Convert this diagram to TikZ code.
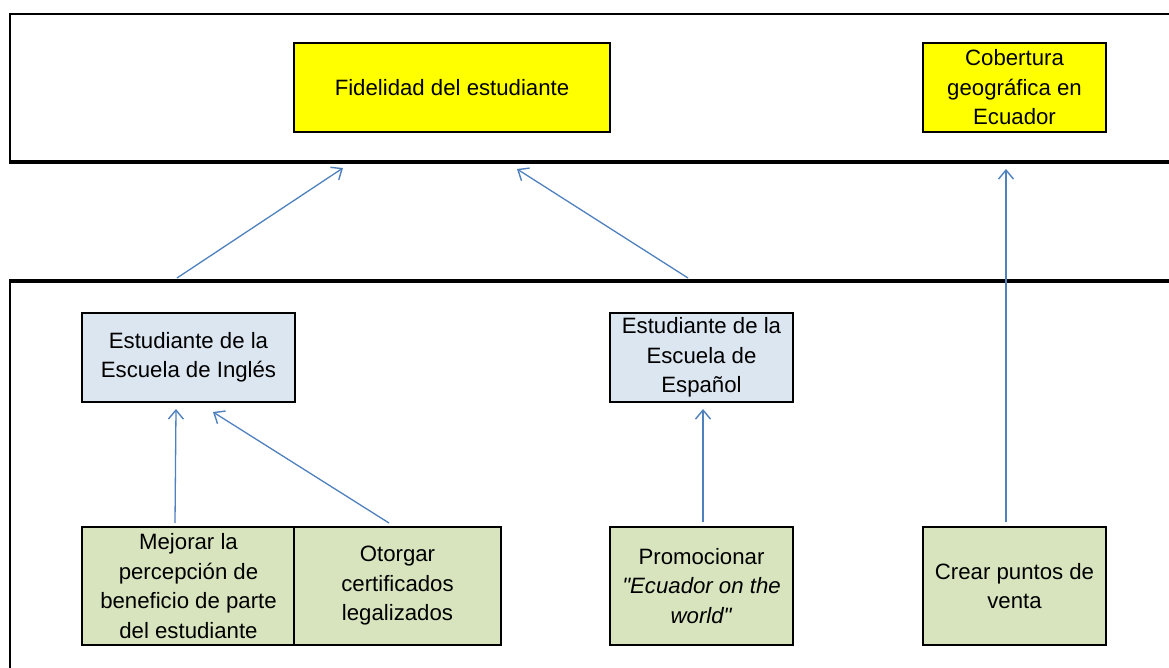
\documentclass[tikz,border=0pt]{standalone}
\usepackage{fontspec}
\setmainfont{Liberation Sans}[Ligatures=TeXOff]
\usetikzlibrary{arrows.meta}
\definecolor{boxyellow}{HTML}{FFFF00}
\definecolor{boxblue}{HTML}{DCE6F1}
\definecolor{boxgreen}{HTML}{D7E4BD}
\definecolor{arrowblue}{HTML}{4F81BD}
\tikzset{
  basebox/.style={draw=black, line width=2pt, rectangle, align=center, inner sep=2pt,
    font=\fontsize{22.2}{29.5}\selectfont},
  goalbox/.style={basebox, fill=boxyellow},
  studbox/.style={basebox, fill=boxblue},
  actbox/.style={basebox, fill=boxgreen},
  link/.style={draw=arrowblue, line width=1.3pt, -{Straight Barb[length=9pt,width=15pt,line width=1.4pt]}},
  panelthin/.style={line width=2pt, black},
  panelthick/.style={line width=3.2pt, black},
}
\begin{document}
\begin{tikzpicture}[x=1pt,y=-1pt]
\useasboundingbox (0,0) rectangle (1169,668);
\clip (0,0) rectangle (1169,668);
\fill[white] (0,0) rectangle (1169,668);
% panels
\draw[panelthin] (1180,14) -- (10,14) -- (10,162);
\draw[panelthick] (9,162) -- (1180,162);
\draw[panelthick] (9,281) -- (1180,281);
\draw[panelthin] (10,281) -- (10,680);
% top goals
\node[goalbox, minimum width=316pt, minimum height=89pt] (fid) at (452,87.5) {Fidelidad del estudiante};
\node[goalbox, minimum width=183pt, minimum height=89pt] (cob) at (1014.5,87.5) {Cobertura\\geográfica en\\Ecuador};
% students
\node[studbox, minimum width=213pt, minimum height=89pt] (ing) at (188.5,357.5) {Estudiante de la\\Escuela de Inglés};
\node[studbox, minimum width=183pt, minimum height=89pt] (esp) at (701.5,357.5) {Estudiante de la\\Escuela de\\Español};
% actions
\node[actbox, minimum width=213pt, minimum height=118pt] (mej) at (188.5,586) {Mejorar la\\percepción de\\beneficio de parte\\del estudiante};
\node[actbox, minimum width=207pt, minimum height=118pt] (oto) at (397.5,586) {Otorgar\\certificados\\legalizados};
\node[actbox, minimum width=183pt, minimum height=118pt] (pro) at (701.5,586) {Promocionar\\\textit{"Ecuador on the}\\\textit{world"}};
\node[actbox, minimum width=183pt, minimum height=118pt] (cre) at (1014.5,586) {Crear puntos de\\venta};
% connector end points
\coordinate (ingUp) at (177,278);
\coordinate (fidL) at (343,168);
\coordinate (espUp) at (688,278);
\coordinate (fidR) at (517,169);
\coordinate (creUp) at (1006,522);
\coordinate (cobIn) at (1006,169);
\coordinate (mejUp) at (175,523);
\coordinate (ingL) at (176,409);
\coordinate (otoUp) at (389,523);
\coordinate (ingR) at (213,412);
\coordinate (proUp) at (703,522);
\coordinate (espIn) at (703,409);
\draw[link] (ingUp) -- (fidL);
\draw[link] (espUp) -- (fidR);
\draw[link] (creUp) -- (cobIn);
\draw[link] (mejUp) -- (ingL);
\draw[link] (otoUp) -- (ingR);
\draw[link] (proUp) -- (espIn);
\end{tikzpicture}
\end{document}
